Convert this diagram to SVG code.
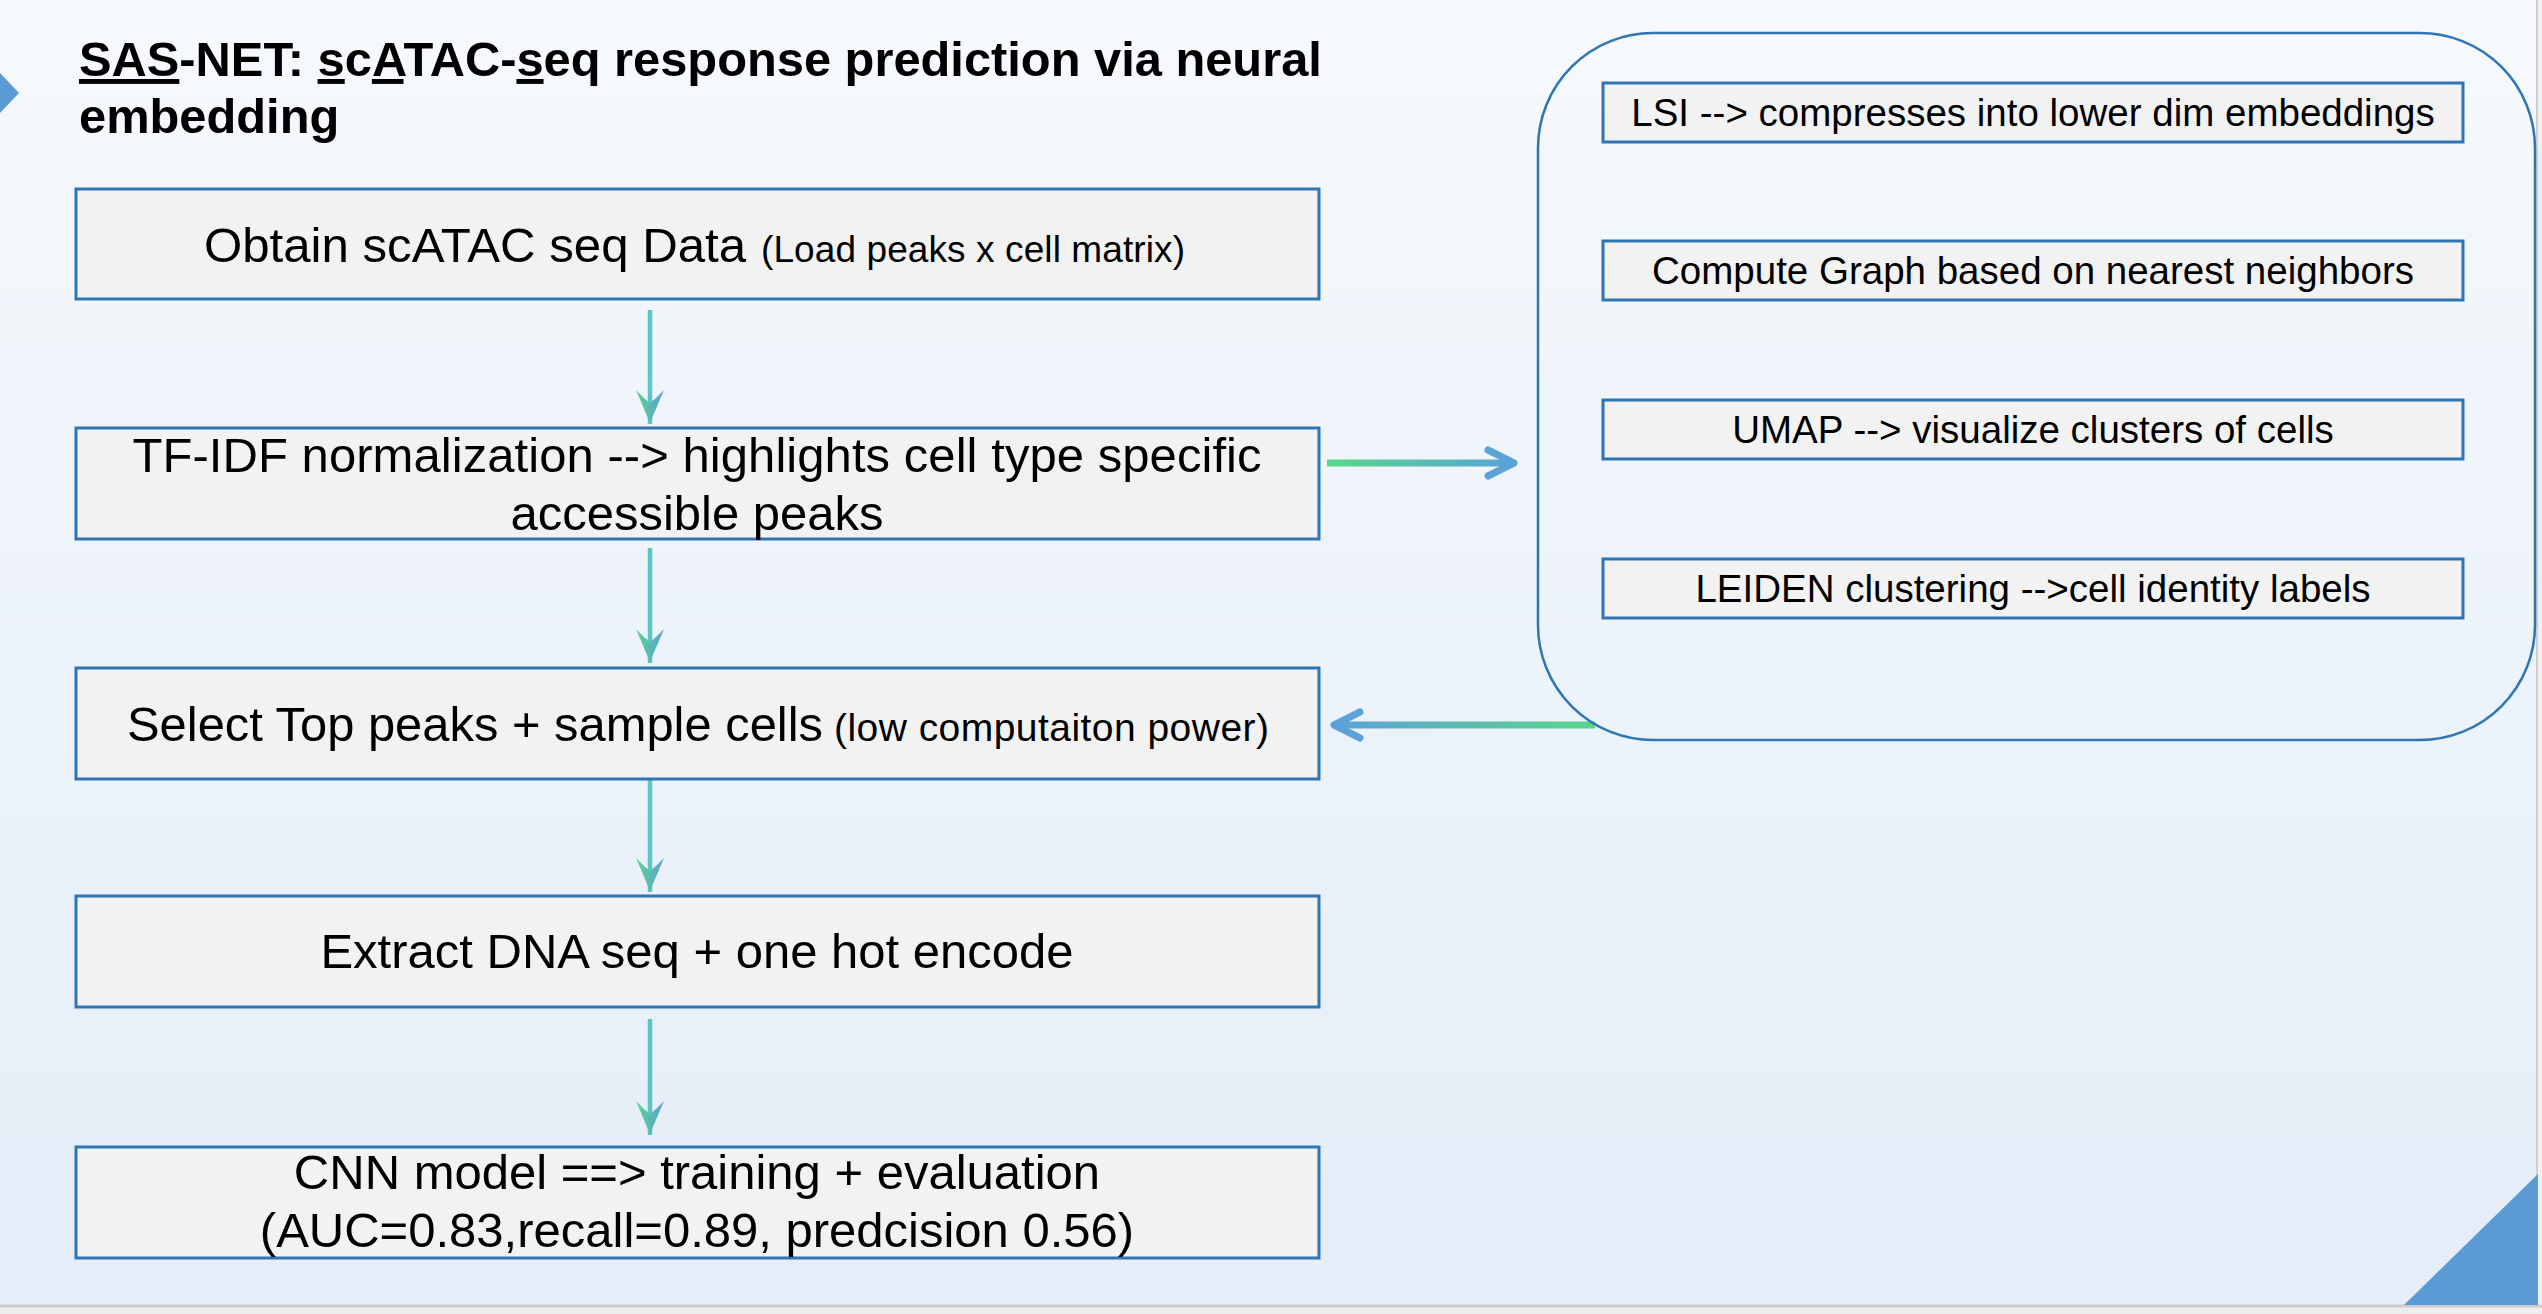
<svg xmlns="http://www.w3.org/2000/svg" width="2542" height="1314" viewBox="0 0 2542 1314">
  <style>
    .box { fill: #f2f2f2; stroke: #2e75b6; stroke-width: 3; }
    .sbox { fill: #f2f2f2; stroke: #2e75b6; stroke-width: 3; }
    .t { font-family: "Liberation Sans", Arial, Helvetica, sans-serif; fill: #000; }
    .main { font-size: 49px; }
    .small { font-size: 37px; }
    .side { font-size: 38.5px; }
    .title { font-size: 48.8px; font-weight: bold; }
    .vline { stroke: #5cc6c4; stroke-width: 4.5; fill: none; }
    .hline { stroke-width: 7; fill: none; }
    .chev { stroke: #5ba2d8; stroke-width: 7; fill: none; stroke-linecap: round; stroke-linejoin: round; }
  </style>
  <defs>
    <linearGradient id="bg" x1="0" y1="0" x2="0" y2="1">
      <stop offset="0" stop-color="#f6f9fd"/>
      <stop offset="1" stop-color="#e4edf8"/>
    </linearGradient>
    <linearGradient id="headGrad" x1="0" y1="1" x2="0" y2="0">
      <stop offset="0" stop-color="#5ad48c"/>
      <stop offset="1" stop-color="#5b9fd8"/>
    </linearGradient>
    <linearGradient id="gradR" gradientUnits="userSpaceOnUse" x1="1327" y1="0" x2="1515" y2="0">
      <stop offset="0" stop-color="#5ad68a"/>
      <stop offset="1" stop-color="#5ba2d8"/>
    </linearGradient>
    <linearGradient id="gradL" gradientUnits="userSpaceOnUse" x1="1595" y1="0" x2="1333" y2="0">
      <stop offset="0" stop-color="#5ad68a"/>
      <stop offset="1" stop-color="#5ba2d8"/>
    </linearGradient>
    <marker id="vhead" markerUnits="userSpaceOnUse" viewBox="0 -15 36 30" refX="34" refY="0" markerWidth="36" markerHeight="30" orient="auto">
      <path d="M34,0 C25,-3 12,-9 0,-14 C7,-7 11,-3 13,0 C11,3 7,7 0,14 C12,9 25,3 34,0 Z" fill="url(#headGrad)"/>
    </marker>
  </defs>

  <!-- background -->
  <rect x="0" y="0" width="2542" height="1314" fill="url(#bg)"/>
  <rect x="2537" y="0" width="5" height="1314" fill="#f0f0f0"/>
  <line x1="2537" y1="0" x2="2537" y2="1306" stroke="#cfcfcf" stroke-width="2"/>
  <rect x="0" y="1305" width="2542" height="9" fill="#eeeeee"/>
  <line x1="0" y1="1306" x2="2542" y2="1306" stroke="#cccccc" stroke-width="3"/>
  <polygon points="2538,1174 2538,1305 2404,1305" fill="#5b9bd5"/>
  <polygon points="0,73 19,93 0,113" fill="#5b9bd5"/>

  <!-- title -->
  <g id="title">
    <text class="t title" x="79" y="76"><tspan text-decoration="underline">SAS</tspan>-NET: <tspan text-decoration="underline">s</tspan>c<tspan text-decoration="underline">A</tspan>TAC-<tspan text-decoration="underline">s</tspan>eq response prediction via neural</text>
    <text class="t title" x="79" y="133">embedding</text>
  </g>

  <!-- connectors -->
  <g id="connectors">
    <line class="vline" x1="650" y1="310" x2="650" y2="424" marker-end="url(#vhead)"/>
    <line class="vline" x1="650" y1="548" x2="650" y2="663" marker-end="url(#vhead)"/>
    <line class="vline" x1="650" y1="779" x2="650" y2="892" marker-end="url(#vhead)"/>
    <line class="vline" x1="650" y1="1019" x2="650" y2="1135" marker-end="url(#vhead)"/>
    <line class="hline" x1="1327" y1="463" x2="1512" y2="463" stroke="url(#gradR)"/>
    <polyline class="chev" points="1488,450 1514,463 1488,476"/>
    <line class="hline" x1="1595" y1="725" x2="1336" y2="725" stroke="url(#gradL)"/>
    <polyline class="chev" points="1360,712 1334,725 1360,738"/>
  </g>

  <!-- left column -->
  <g id="node-obtain">
    <rect class="box" x="76" y="189" width="1243" height="110"/>
    <text class="t main" x="204" y="262" textLength="542" lengthAdjust="spacingAndGlyphs">Obtain scATAC seq Data</text>
    <text class="t small" x="761" y="262" textLength="424" lengthAdjust="spacing">(Load peaks x cell matrix)</text>
  </g>
  <g id="node-tfidf">
    <rect class="box" x="76" y="428" width="1243" height="111"/>
    <text class="t main" x="697" y="472" text-anchor="middle" textLength="1129" lengthAdjust="spacing">TF-IDF normalization --&gt; highlights cell type specific</text>
    <text class="t main" x="697" y="530" text-anchor="middle">accessible peaks</text>
  </g>
  <g id="node-select">
    <rect class="box" x="76" y="668" width="1243" height="111"/>
    <text class="t main" x="127" y="741" textLength="696" lengthAdjust="spacingAndGlyphs">Select Top peaks + sample cells</text>
    <text class="t small" x="834" y="741" style="font-size:39px" textLength="435" lengthAdjust="spacing">(low computaiton power)</text>
  </g>
  <g id="node-extract">
    <rect class="box" x="76" y="896" width="1243" height="111"/>
    <text class="t main" x="697" y="968" text-anchor="middle">Extract DNA seq + one hot encode</text>
  </g>
  <g id="node-cnn">
    <rect class="box" x="76" y="1147" width="1243" height="111"/>
    <text class="t main" x="697" y="1189" text-anchor="middle">CNN model ==&gt; training + evaluation</text>
    <text class="t main" x="697" y="1247" text-anchor="middle">(AUC=0.83,recall=0.89, predcision 0.56)</text>
  </g>

  <!-- right container -->
  <g id="group-embedding">
    <rect x="1538" y="33" width="997" height="707" rx="115" ry="115" fill="none" stroke="#2e75b6" stroke-width="2.5"/>
  </g>
  <g id="node-lsi">
    <rect class="sbox" x="1603" y="83" width="860" height="59"/>
    <text class="t side" x="2033" y="126" text-anchor="middle">LSI --&gt; compresses into lower dim embeddings</text>
  </g>
  <g id="node-graph">
    <rect class="sbox" x="1603" y="241" width="860" height="59"/>
    <text class="t side" x="2033" y="284" text-anchor="middle">Compute Graph based on nearest neighbors</text>
  </g>
  <g id="node-umap">
    <rect class="sbox" x="1603" y="400" width="860" height="59"/>
    <text class="t side" x="2033" y="443" text-anchor="middle">UMAP --&gt; visualize clusters of cells</text>
  </g>
  <g id="node-leiden">
    <rect class="sbox" x="1603" y="559" width="860" height="59"/>
    <text class="t side" x="2033" y="602" text-anchor="middle">LEIDEN clustering --&gt;cell identity labels</text>
  </g>
</svg>
